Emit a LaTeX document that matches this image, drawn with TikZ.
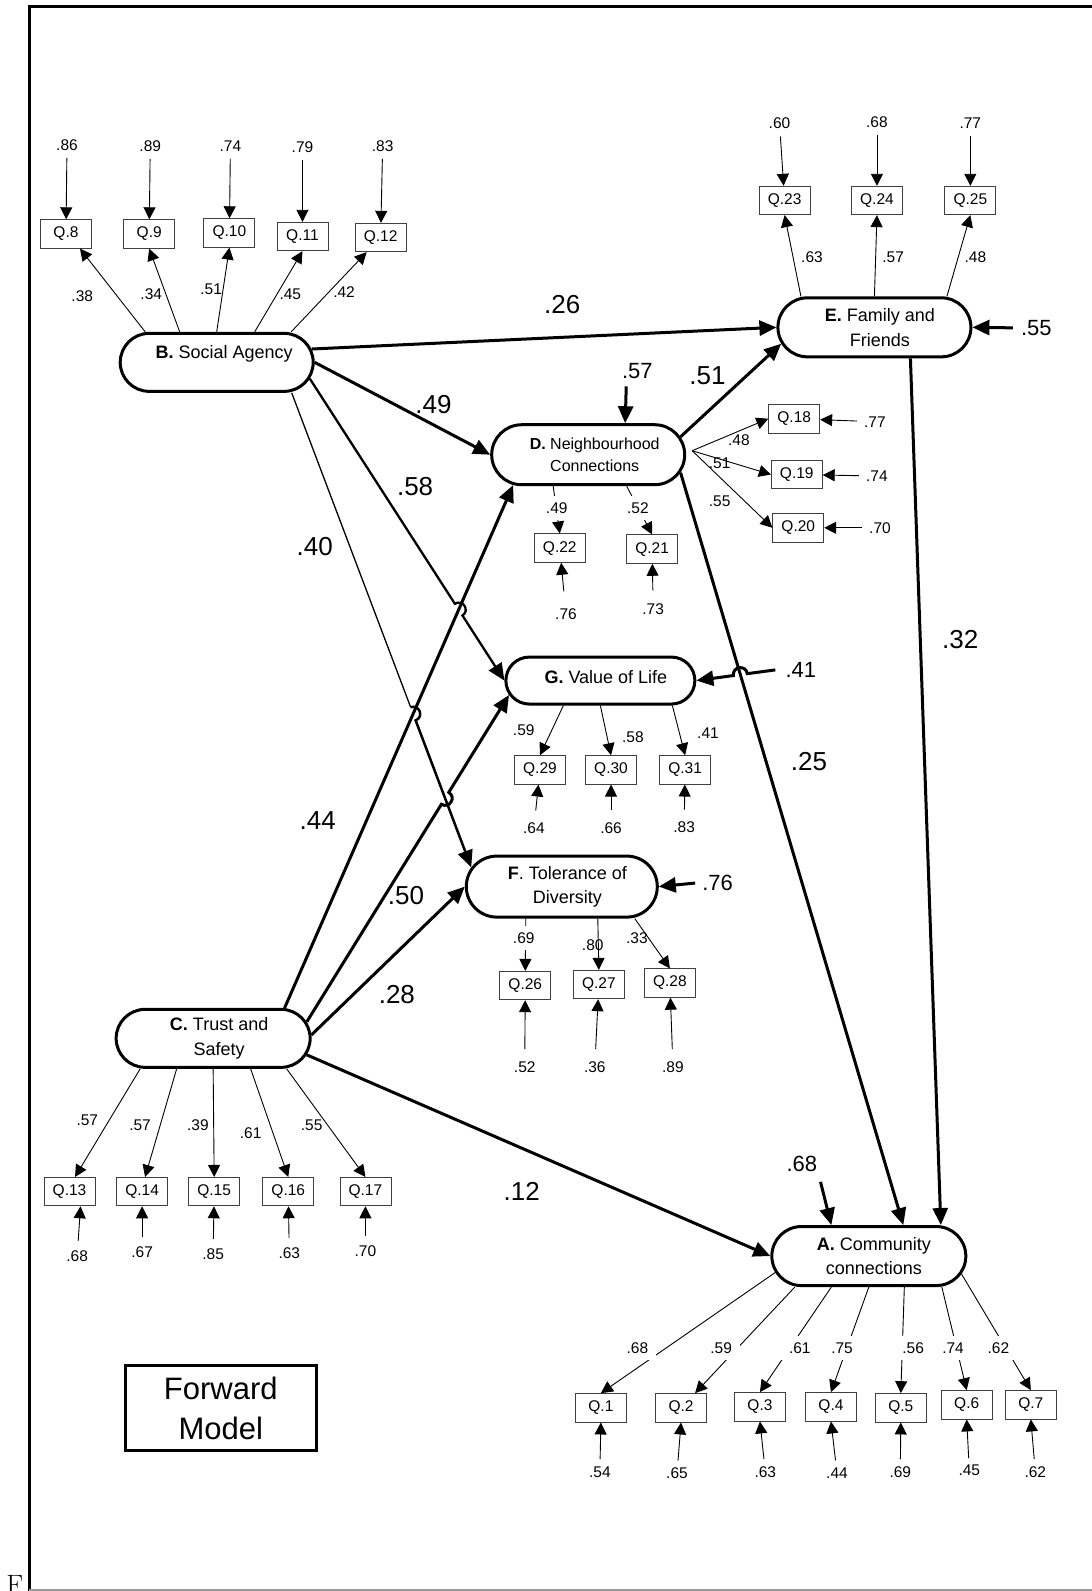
\documentclass[tikz,border=0pt]{standalone}
\usepackage{fontspec}
\newfontfamily\arialf{Liberation Sans}
\usetikzlibrary{arrows.meta,shapes.misc,calc,intersections}
\begin{document}
\begin{tikzpicture}[x=1.015pt,y=1.015pt,
 latb/.style={rounded rectangle, draw, fill=white, line width=3pt, inner sep=0pt, font=\arialf\fontsize{18}{25}\selectfont},
 lat/.style={latb, align=center},
 obs/.style={draw=black!75, line width=0.8pt, minimum width=51pt, minimum height=28.5pt, inner sep=0pt, font=\arialf\fontsize{15.5}{18}\selectfont},
 lbl/.style={inner sep=1pt, font=\arialf\fontsize{15.5}{18}\selectfont},
 lblw/.style={lbl, fill=white, minimum width=38pt, minimum height=24pt},
 big/.style={inner sep=1pt, font=\arialf\fontsize{26}{30}\selectfont},
 errl/.style={inner sep=1pt, font=\arialf\fontsize{22}{26}\selectfont},
 thn/.style={line width=0.9pt, -{Triangle[length=12pt,width=12pt]}},
 thk/.style={line width=3pt, -{Triangle[length=17pt,width=15pt]}},
]
\useasboundingbox (0,0) rectangle (1074.9,-1567.5);
% frame
\draw[line width=3pt] (27.8,-6.4) -- (1080,-6.4);
\draw[line width=3pt] (29.5,-5) -- (29.5,-1570);
\draw[line width=1.3pt, black!40] (28.5,-1566.6) -- (1080,-1566.6);
\node[anchor=north west, inner sep=0pt, font=\fontsize{28}{30}\selectfont] (fmark) at (6,-1551.5) {F};

% latent variables
\node[latb, minimum width=193pt, minimum height=58pt, text height=13pt, text depth=20.3pt] (B) at (213.5,-357) {\hspace*{15pt}\textbf{B.} Social Agency};
\node[lat, font=\arialf\fontsize{18}{25.4}\selectfont, minimum width=193pt, minimum height=59pt] (E) at (861.5,-322.5) {\hspace*{11pt}\textbf{E.} Family and\\\hspace*{11pt}Friends};
\node[lat, font=\arialf\fontsize{16}{22.3}\selectfont, minimum width=193pt, minimum height=60pt] (D) at (579.5,-448) {\hspace*{13pt}\textbf{D.} Neighbourhood\\\hspace*{13pt}Connections};
\node[latb, minimum width=189pt, minimum height=47pt, text height=13pt, text depth=7pt] (G) at (591.5,-670.5) {\hspace*{11pt}\textbf{G.} Value of Life};
\node[lat, font=\arialf\fontsize{18}{23.5}\selectfont, minimum width=191pt, minimum height=61pt] (F) at (553.5,-873.5) {\hspace*{11pt}\textbf{F}. Tolerance of\\\hspace*{11pt}Diversity};
\node[lat, font=\arialf\fontsize{18}{24.4}\selectfont, minimum width=194pt, minimum height=58pt] (C) at (210,-1023) {\hspace*{12pt}\textbf{C.} Trust and\\\hspace*{12pt}Safety};
\node[lat, font=\arialf\fontsize{18}{24.4}\selectfont, minimum width=194pt, minimum height=59pt] (A) at (856,-1237.5) {\hspace*{10pt}\textbf{A.} Community\\\hspace*{10pt}connections};

% observed variables
\node[obs] (Q8) at (65,-230.5) {Q.8};
\node[obs] (Q9) at (147,-230.5) {Q.9};
\node[obs] (Q10) at (226,-229.5) {Q.10};
\node[obs] (Q11) at (298,-233) {Q.11};
\node[obs] (Q12) at (375,-234) {Q.12};
\node[obs] (Q23) at (773,-197.5) {Q.23};
\node[obs] (Q24) at (864,-197.5) {Q.24};
\node[obs] (Q25) at (956,-197.5) {Q.25};
\node[obs] (Q18) at (782.5,-412.5) {Q.18};
\node[obs] (Q19) at (785,-467.5) {Q.19};
\node[obs] (Q20) at (786.5,-520) {Q.20};
\node[obs] (Q22) at (551.5,-540) {Q.22};
\node[obs] (Q21) at (642.5,-541) {Q.21};
\node[obs] (Q29) at (532,-758.5) {Q.29};
\node[obs] (Q30) at (602,-758.5) {Q.30};
\node[obs] (Q31) at (675,-758.5) {Q.31};
\node[obs] (Q26) at (517.5,-971) {Q.26};
\node[obs] (Q27) at (590,-970) {Q.27};
\node[obs] (Q28) at (660,-968.5) {Q.28};
\node[obs] (Q13) at (68.5,-1174) {Q.13};
\node[obs] (Q14) at (140,-1174) {Q.14};
\node[obs] (Q15) at (211,-1174) {Q.15};
\node[obs] (Q16) at (284,-1174) {Q.16};
\node[obs] (Q17) at (360,-1174) {Q.17};
\node[obs] (Q1) at (592,-1387) {Q.1};
\node[obs] (Q2) at (671,-1387) {Q.2};
\node[obs] (Q3) at (748.7,-1386) {Q.3};
\node[obs] (Q4) at (818.7,-1386) {Q.4};
\node[obs] (Q5) at (887.5,-1387) {Q.5};
\node[obs] (Q6) at (952.4,-1384) {Q.6};
\node[obs] (Q7) at (1015.6,-1384) {Q.7};

% error labels of indicators
\node[lbl] (u8) at (66,-143) {.86};
\node[lbl] (u9) at (148,-144) {.89};
\node[lbl] (u10) at (227,-144) {.74};
\node[lbl] (u11) at (298,-145) {.79};
\node[lbl] (u12) at (377,-144) {.83};
\node[lbl] (u23) at (768,-121) {.60};
\node[lbl] (u24) at (864,-120) {.68};
\node[lbl] (u25) at (956,-121) {.77};
\node[lbl] (u18) at (862,-415.5) {.77};
\node[lbl] (u19) at (864,-469) {.74};
\node[lbl] (u20) at (867,-520) {.70};
\node[lbl] (u22) at (557.6,-605) {.76};
\node[lbl] (u21) at (643.5,-600) {.73};
\node[lbl] (u29) at (526,-816) {.64};
\node[lbl] (u30) at (602,-815.5) {.66};
\node[lbl] (u31) at (674,-815) {.83};
\node[lbl] (u26) at (517,-1051) {.52};
\node[lbl] (u27) at (586,-1051) {.36};
\node[lbl] (u28) at (663,-1051) {.89};
\node[lbl] (u13) at (76,-1238) {.68};
\node[lbl] (u14) at (140,-1234) {.67};
\node[lbl] (u15) at (210,-1236) {.85};
\node[lbl] (u16) at (285,-1235) {.63};
\node[lbl] (u17) at (360,-1233) {.70};
\node[lbl] (u1) at (591,-1450) {.54};
\node[lbl] (u2) at (667,-1451.5) {.65};
\node[lbl] (u3) at (754,-1450) {.63};
\node[lbl] (u4) at (824.6,-1451) {.44};
\node[lbl] (u5) at (887,-1450) {.69};
\node[lbl] (u6) at (955,-1449) {.45};
\node[lbl] (u7) at (1020,-1450) {.62};

% loading labels (no background)
\node[lbl] (l8) at (81,-292) {.38};
\node[lbl] (l9) at (149,-290) {.34};
\node[lbl] (l10) at (208,-285) {.51};
\node[lbl] (l11) at (286,-290) {.45};
\node[lbl] (l12) at (339,-288) {.42};
\node[lbl] (l23) at (800,-253) {.63};
\node[lbl] (l24) at (880,-253) {.57};
\node[lbl] (l25) at (961,-253) {.48};
\node[lbl] (l18) at (728,-434) {.48};
\node[lbl] (l19) at (709,-456) {.51};
\node[lbl] (l20) at (709,-494) {.55};
\node[lbl] (l29) at (516,-719) {.59};
\node[lbl] (l30) at (623.5,-726) {.58};
\node[lbl] (l31) at (697.5,-722) {.41};
\node[lbl] (l27) at (584,-931) {.80};
\node[lbl] (l28) at (627.5,-924) {.33};
\node[lbl] (l13) at (86,-1103.5) {.57};
\node[lbl] (l14) at (138,-1109) {.57};
\node[lbl] (l15) at (195,-1109) {.39};
\node[lbl] (l16) at (247,-1116) {.61};
\node[lbl] (l17) at (307,-1109) {.55};

% path coefficients
\node[big] (p26) at (554,-300.5) {.26};
\node[big] (p49) at (427,-399) {.49};
\node[big] (p58) at (409,-479) {.58};
\node[big] (p40) at (310,-538.6) {.40};
\node[big] (p44) at (313,-808.6) {.44};
\node[big] (p50) at (400,-882) {.50};
\node[big] (p28) at (391,-980) {.28};
\node[big] (p12) at (514,-1174) {.12};
\node[big] (p51) at (697,-370.5) {.51};
\node[big] (p25) at (797,-750) {.25};
\node[big] (p32) at (946,-630) {.32};
% latent residuals
\node[errl] (e57) at (628,-366) {.57};
\node[errl] (e55) at (1021,-323) {.55};
\node[errl] (e41) at (789,-660) {.41};
\node[errl] (e76) at (707,-870) {.76};
\node[errl] (e68) at (790,-1147) {.68};

% Forward model box
\node[draw, line width=3pt, minimum width=191pt, minimum height=85pt, align=center, font=\arialf\fontsize{31}{40}\selectfont] (fwd) at (217.5,-1387.5) {Forward\\Model};

% helper coordinates and crossings
\coordinate (bf0) at ([xshift=75pt]B.south);
\coordinate (da1) at ([xshift=34.5pt]A.north);
\coordinate (e41s) at ([xshift=-9pt]e41.west);
\path[name path=pCD] (C.23) -- (D.202);
\path[name path=pBG] (B.-10) -- (G.west);
\path[name path=pBF] (bf0) -- (F.168);
\path[name path=pCG] (C.10) -- (G.189);
\path[name path=pDA] (D.-11) -- (da1);
\path[name path=pEF] (e41s) -- (G.east);
\path[name intersections={of=pCD and pBG, by=h1}];
\path[name intersections={of=pCD and pBF, by=h2}];
\path[name intersections={of=pCG and pBF, by=h3}];
\path[name intersections={of=pDA and pEF, by=h4}];

% structural paths
\draw[thk] (B.8) -- (E.west);
\draw[thk] (B.east) -- (D.west);
\draw[thk, line width=2.3pt] (B.-10) -- ($(h1)!7pt!(B.-10)$) to[bend left=90, looseness=1.7] ($(h1)!7pt!(G.west)$) -- (G.west);
\draw[line width=1.3pt] (bf0) -- ($(h2)!7pt!(bf0)$);
\draw[thk, line width=2.5pt] ($(h2)!7pt!(bf0)$) to[bend left=90, looseness=1.7] ($(h2)!7pt!(F.168)$) -- (F.168);
\draw[thk] (C.23) -- (D.202);
\draw[thk] (C.10) -- ($(h3)!7pt!(C.10)$) to[bend right=90, looseness=1.7] ($(h3)!7pt!(G.189)$) -- (G.189);
\draw[thk] (C.2) -- (F.west);
\draw[thk] (C.-10) -- (A.west);
\draw[thk] (D.11) -- (E.190);
\draw[thk] (D.-11) -- (da1);
\draw[thk] ([xshift=36pt]E.south) -- ([xshift=72pt]A.north);
% latent residual arrows
\draw[thk, shorten <=6pt] ([xshift=-11pt]e57.south) -- ([xshift=37pt]D.north);
\draw[thk] ([xshift=-7pt]e55.west) -- (E.east);
\draw[thk] ([xshift=-6pt]e76.west) -- (F.east);
\draw[thk, shorten <=9pt] (e68.south east) -- ([xshift=-37.5pt]A.north);
\draw[thk] (e41s) -- ($(h4)!7pt!(e41s)$) to[bend right=90, looseness=1.7] ($(h4)!7pt!(G.east)$) -- (G.east);

% B indicators
\draw[thn] ([xshift=-71.5pt]B.north) -- ([xshift=14pt]Q8.south);
\draw[thn] ([xshift=-37pt]B.north) -- (Q9.south);
\draw[thn] (B.north) -- (Q10.south);
\draw[thn] ([xshift=38pt]B.north) -- (Q11.south);
\draw[thn] ([xshift=74.5pt]B.north) -- ([xshift=-14pt]Q12.south);
\foreach \q in {8,9,10,11,12} {\draw[thn, shorten <=6pt] (u\q) -- (Q\q);}
% E indicators
\draw[thn] ([xshift=-73.5pt]E.north) -- (Q23.south);
\draw[thn] (E.north) -- (Q24.south);
\draw[thn] ([xshift=72.5pt]E.north) -- (Q25.south);
\foreach \q in {23,24,25} {\draw[thn, shorten <=7pt] (u\q) -- (Q\q);}
% D indicators
\coordinate (dr) at ([shift={(6pt,4pt)}]D.east);
\draw[thn] (dr) -- (Q18.west);
\draw[thn] (dr) -- (Q19.west);
\draw[thn] (dr) -- (Q20.west);
\foreach \q in {18,19,20} {\draw[thn, shorten <=6pt] (u\q) -- (Q\q);}
\draw[thn] ([xshift=-35pt]D.south) -- (Q22.north);
\draw[thn] ([xshift=38.5pt]D.south) -- (Q21.north);
\draw[thn, shorten <=16pt] (u22) -- (Q22);
\draw[thn, shorten <=12pt] (u21) -- (Q21);
% G indicators
\draw[thn] ([xshift=-37pt]G.south) -- (Q29.north);
\draw[thn] (G.south) -- (Q30.north);
\draw[thn] ([xshift=72pt]G.south) -- (Q31.north);
\foreach \q in {29,30,31} {\draw[thn, shorten <=11pt] (u\q) -- (Q\q);}
% F indicators
\draw[thn] ([xshift=-36pt]F.south) -- (Q26.north);
\draw[thn] ([xshift=36pt]F.south) -- (Q27.north);
\draw[thn] ([xshift=73pt]F.south) -- (Q28.north);
\foreach \q in {26,27,28} {\draw[thn, shorten <=11pt] (u\q) -- (Q\q);}
% C indicators
\draw[thn] ([xshift=-73pt]C.south) -- ([xshift=5.5pt]Q13.north);
\draw[thn] ([xshift=-36.5pt]C.south) -- ([xshift=3pt]Q14.north);
\draw[thn] (C.south) -- (Q15.north);
\draw[thn] ([xshift=37.5pt]C.south) -- (Q16.north);
\draw[thn] ([xshift=73.5pt]C.south) -- (Q17.north);
\draw[thn, shorten <=9pt] (u13) -- ([xshift=11pt]Q13.south);
\foreach \q in {14,15,16,17} {\draw[thn, shorten <=9pt] (u\q) -- (Q\q);}
% A indicators
\draw[thn] (A.190) -- (Q1.north);
\draw[thn] ([xshift=-74pt]A.south) -- ([xshift=14pt]Q2.north);
\draw[thn] ([xshift=-37.5pt]A.south) -- (Q3.north);
\draw[thn] (A.south) -- (Q4.north);
\draw[thn] ([xshift=35.5pt]A.south) -- (Q5.north);
\draw[thn] ([xshift=73pt]A.south) -- (Q6.north);
\draw[thn] (A.-11) -- (Q7.north);
\foreach \q in {1,2,3,4,5,6,7} {\draw[thn, shorten <=6pt] (u\q) -- (Q\q.south);}

% loading labels with white background (they interrupt the lines)
\node[lblw] (l22) at (548.5,-500.5) {.49};
\node[lblw] (l21) at (628.5,-500.5) {.52};
\node[lblw] (l26) at (516,-924) {.69};
\node[lblw] (l1) at (628,-1328.4) {.68};
\node[lblw] (l2) at (710.5,-1328) {.59};
\node[lblw] (l3) at (788,-1328) {.61};
\node[lblw] (l4) at (829.6,-1328) {.75};
\node[lblw] (l5) at (899.6,-1328) {.56};
\node[lblw] (l6) at (939,-1328) {.74};
\node[lblw] (l7) at (983.7,-1328) {.62};
\end{tikzpicture}
\end{document}
